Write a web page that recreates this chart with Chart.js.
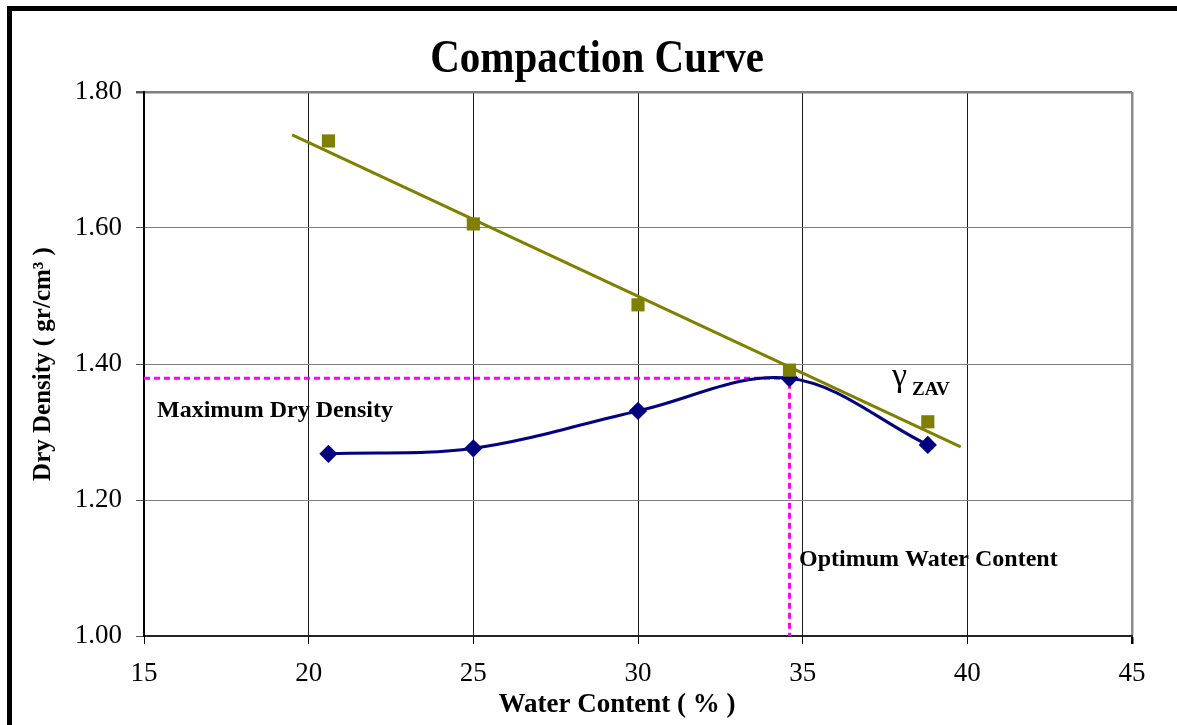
<!DOCTYPE html>
<html>
<head>
<meta charset="utf-8">
<script src="https://cdn.jsdelivr.net/npm/chart.js@4"></script>
<style>
  body { margin: 0; background: #fff; }
  canvas { display: block; }
</style>
</head>
<body>
<canvas id="myChart" width="1177" height="725"></canvas>
<script>
// values
var waterContent = [20.6, 25.0, 30.0, 34.6, 38.8];
var dryDensity = [1.268, 1.276, 1.331, 1.379, 1.281];
var zavDensity = [1.728, 1.606, 1.487, 1.391, 1.315];
var trendX = [19.5, 39.8];
var trendY = [1.737, 1.278];
var optimumX = [15, 34.6, 34.6];
var optimumY = [1.379, 1.379, 1.00];
var xTicks = [15, 20, 25, 30, 35, 40, 45];
var yTicks = [1.00, 1.20, 1.40, 1.60, 1.80];

function pairs(xs, ys) {
    return xs.map(function(x, i) { return {x: x, y: ys[i]}; });
}

var serif = '"Liberation Serif", "Times New Roman", serif';

var decorations = {
    id: 'decorations',
    afterDatasetsDraw: function(chart) {
        var c = chart.ctx;
        c.save();
        c.fillStyle = '#000';
        c.textAlign = 'left';
        c.textBaseline = 'alphabetic';
        c.font = 'bold 24px ' + serif;
        c.fillText('Maximum Dry Density', 157, 417);
        c.fillText('Optimum Water Content', 799, 566);
        c.font = '34px ' + serif;
        c.fillText('\u03B3', 892, 386);
        c.font = 'bold 19px ' + serif;
        c.fillText('ZAV', 912, 395);
        c.restore();
    },
    afterDraw: function(chart) {
        var c = chart.ctx;
        c.save();
        // chart title, a little stretched up like the original
        c.fillStyle = '#000';
        c.textAlign = 'center';
        c.textBaseline = 'alphabetic';
        c.translate(597, 72);
        c.scale(1, 1.12);
        c.font = 'bold 41px ' + serif;
        c.fillText('Compaction Curve', 0, 0);
        c.restore();

        c.save();
        c.fillStyle = '#000';
        c.textAlign = 'center';
        c.font = 'bold 27px ' + serif;
        c.fillText('Water Content ( % )', 617, 712);
        // frame
        c.fillRect(7, 6, 5, 725);
        c.fillRect(7, 6, 1170, 5);
        c.restore();
    }
};

var ctx = document.getElementById('myChart').getContext('2d');
var myChart = new Chart(ctx, {
    type: 'line',
    data: {
        datasets: [{
            label: 'ZAV',
            data: pairs(waterContent, zavDensity),
            showLine: false,
            pointStyle: 'rect',
            pointRadius: 9.3,
            backgroundColor: '#808000',
            borderColor: '#808000',
            borderWidth: 0
        },
        {
            label: 'ZAV trend',
            data: pairs(trendX, trendY),
            borderColor: '#808000',
            borderWidth: 3,
            pointRadius: 0
        },
        {
            label: 'Dry Density',
            data: pairs(waterContent, dryDensity),
            borderColor: '#000080',
            backgroundColor: '#000080',
            borderWidth: 3,
            pointStyle: 'rectRot',
            pointRadius: 7,
            tension: 0.35
        },
        {
            label: 'Optimum',
            data: pairs(optimumX, optimumY),
            borderColor: '#FF00FF',
            borderWidth: 3,
            borderDash: [6, 4],
            pointRadius: 0
        }]
    },
    options: {
        responsive: false,
        animation: false,
        layout: {
            padding: {top: 92, right: 45, left: 0, bottom: 0}
        },
        plugins: {
            legend: {display: false},
            tooltip: {enabled: false}
        },
        scales: {
            x: {
                type: 'linear',
                min: 15,
                max: 45,
                afterFit: function(scale) { scale.height = 89; },
                afterBuildTicks: function(scale) {
                    scale.ticks = xTicks.map(function(v) { return {value: v}; });
                },
                ticks: {
                    color: '#000',
                    padding: 14,
                    font: {family: serif, size: 27}
                },
                grid: {
                    color: function(c) { return c.tick && c.tick.value === 45 ? '#8c8c8c' : '#1a1a1a'; },
                    lineWidth: function(c) { return c.tick && c.tick.value === 45 ? 2.5 : 1; },
                    tickColor: '#000',
                    tickLength: 8
                },
                border: {color: '#222', width: 2}
            },
            y: {
                min: 1.0,
                max: 1.8,
                afterFit: function(scale) { scale.width = 144; },
                afterBuildTicks: function(scale) {
                    scale.ticks = yTicks.map(function(v) { return {value: v}; });
                },
                ticks: {
                    color: '#000',
                    padding: 14,
                    font: {family: serif, size: 27},
                    callback: function(value) { return Number(value).toFixed(2); }
                },
                grid: {
                    color: '#808080',
                    lineWidth: function(c) { return c.tick && c.tick.value === 1.8 ? 2.5 : 1; },
                    tickColor: '#555',
                    tickLength: 8
                },
                border: {color: '#000', width: 2},
                title: {
                    display: true,
                    text: 'Dry Density ( gr/cm\u00B3 )',
                    color: '#000',
                    padding: {top: 29},
                    font: {family: serif, size: 25, weight: 'bold'}
                }
            }
        }
    },
    plugins: [decorations]
});
</script>
</body>
</html>
